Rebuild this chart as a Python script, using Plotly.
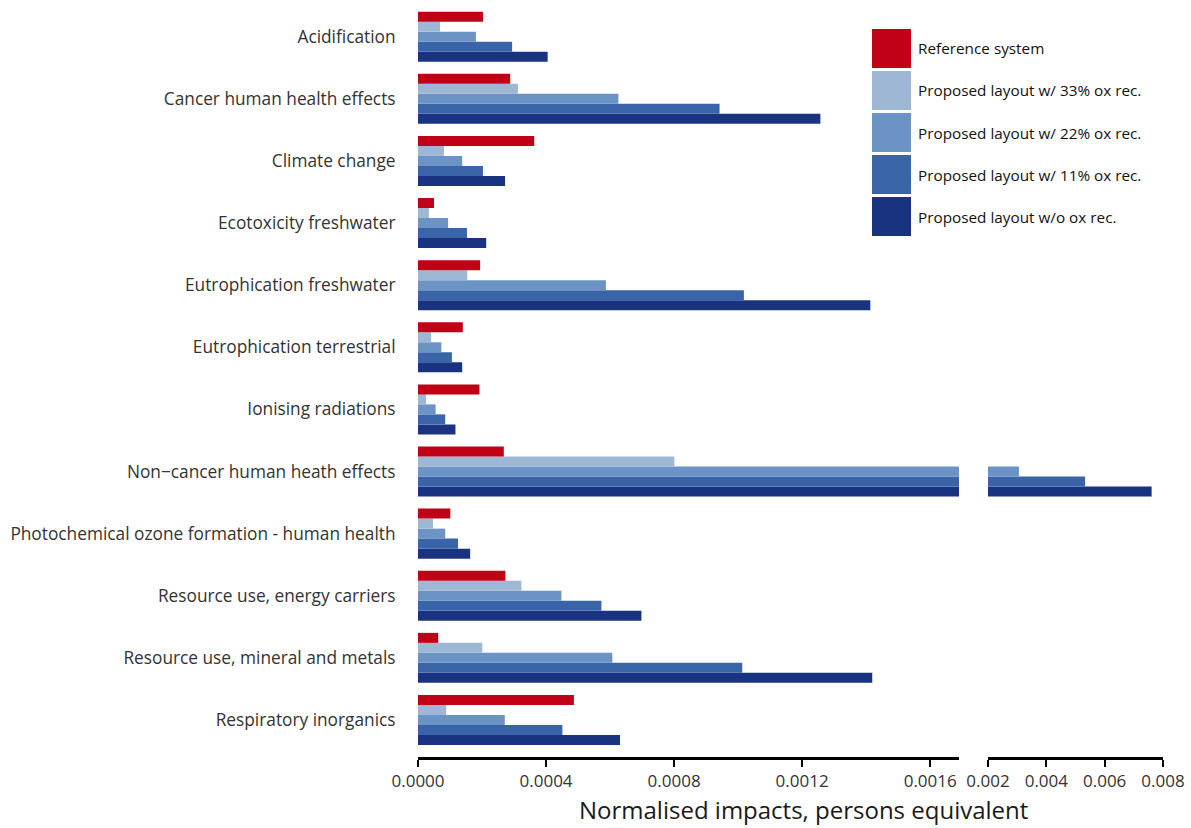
import plotly.graph_objects as go

categories = [
    "Acidification",
    "Cancer human health effects",
    "Climate change",
    "Ecotoxicity freshwater",
    "Eutrophication freshwater",
    "Eutrophication terrestrial",
    "Ionising radiations",
    "Non\u2212cancer human heath effects",
    "Photochemical ozone formation - human health",
    "Resource use, energy carriers",
    "Resource use, mineral and metals",
    "Respiratory inorganics",
]

series_names = [
    "Reference system",
    "Proposed layout w/ 33% ox rec.",
    "Proposed layout w/ 22% ox rec.",
    "Proposed layout w/ 11% ox rec.",
    "Proposed layout w/o ox rec.",
]

reference = [0.000203, 0.000288, 0.000363, 0.000050, 0.000194, 0.000140, 0.000192, 0.000268, 0.000101, 0.000273, 0.000063, 0.000487]
ox33 = [0.000069, 0.000312, 0.000081, 0.000034, 0.000154, 0.000041, 0.000025, 0.000801, 0.000047, 0.000323, 0.000201, 0.000088]
ox22 = [0.000181, 0.000626, 0.000138, 0.000094, 0.000587, 0.000073, 0.000055, 0.00306, 0.000085, 0.000448, 0.000607, 0.000271]
ox11 = [0.000294, 0.000942, 0.000203, 0.000153, 0.001018, 0.000106, 0.000085, 0.00533, 0.000125, 0.000573, 0.001013, 0.000451]
ox0 = [0.000405, 0.001257, 0.000272, 0.000213, 0.001413, 0.000138, 0.000117, 0.00761, 0.000163, 0.000698, 0.001419, 0.000631]

colors = ["#C00016", "#9DB7D5", "#6B93C6", "#3A64A8", "#1A3380"]

left_ticks = [0, 0.0004, 0.0008, 0.0012, 0.0016]
left_ticktext = ["0.0000", "0.0004", "0.0008", "0.0012", "0.0016"]
right_ticks = [0.002, 0.004, 0.006, 0.008]
right_ticktext = ["0.002", "0.004", "0.006", "0.008"]

all_series = [reference, ox33, ox22, ox11, ox0]

fig = go.Figure()
# bottom-most bar in each group first
order = [4, 3, 2, 1, 0]
for xa in ["x", "x2"]:
    for i in order:
        fig.add_trace(go.Bar(
            y=categories, x=all_series[i], orientation="h",
            name=series_names[i], marker=dict(color=colors[i], line=dict(width=0)),
            xaxis=xa, yaxis="y", showlegend=False, hoverinfo="x+y+name",
        ))

W, H = 1191, 828
ml, mr, mt, mb = 418, 28, 5, 71
pw = W - ml - mr
ph = H - mt - mb
d1 = (959 - ml) / pw
d2 = (988 - ml) / pw

font_family = "Open Sans, Noto Sans, sans-serif"

axis_common = dict(
    showline=True, linecolor="black", linewidth=2.5,
    ticks="outside", ticklen=7, tickwidth=2, tickcolor="black",
    showgrid=False, zeroline=False,
    tickfont=dict(family=font_family, size=17, color="#333333"),
)

fig.update_layout(
    width=W, height=H,
    margin=dict(l=ml, r=mr, t=mt, b=mb),
    paper_bgcolor="white", plot_bgcolor="white",
    barmode="group", bargap=0.195, bargroupgap=0,
    xaxis=dict(domain=[0, d1], range=[0, 0.00169], tickvals=left_ticks,
               ticktext=left_ticktext, anchor="y", **axis_common),
    xaxis2=dict(domain=[d2, 1], range=[0.002, 0.008], tickvals=right_ticks,
                ticktext=right_ticktext, anchor="y", **axis_common),
    yaxis=dict(
        type="category", categoryorder="array",
        categoryarray=list(reversed(categories)),
        range=[-0.596, 11.51],
        showline=False, showgrid=False, zeroline=False,
        ticks="outside", ticklen=18, tickcolor="rgba(0,0,0,0)",
        tickfont=dict(family=font_family, size=17.3, color="#333333"),
    ),
    font=dict(family=font_family),
    showlegend=False,
)

# x-axis title
fig.add_annotation(
    text="Normalised impacts, persons equivalent",
    xref="paper", yref="paper",
    x=(803 - ml) / pw, y=-(827 - (H - mb)) / ph,
    xanchor="center", yanchor="bottom", showarrow=False,
    borderpad=0,
    font=dict(family=font_family, size=24, color="#1a1a1a"),
)

# custom legend
leg_x0, leg_x1 = 872, 911
leg_tops = [29, 71, 113, 155, 197]
for i, top in enumerate(leg_tops):
    y0p = 1 - (top - mt) / ph
    y1p = 1 - (top + 39 - mt) / ph
    fig.add_shape(
        type="rect", xref="paper", yref="paper",
        x0=(leg_x0 - ml) / pw, x1=(leg_x1 - ml) / pw,
        y0=y1p, y1=y0p,
        fillcolor=colors[i], line=dict(width=0),
    )
    fig.add_annotation(
        text=series_names[i], xref="paper", yref="paper",
        x=(916 - ml) / pw, y=1 - (top + 19.5 - mt) / ph,
        xanchor="left", yanchor="middle", showarrow=False,
        font=dict(family=font_family, size=15.3, color="#111111"),
    )

fig.write_html("out.html")
